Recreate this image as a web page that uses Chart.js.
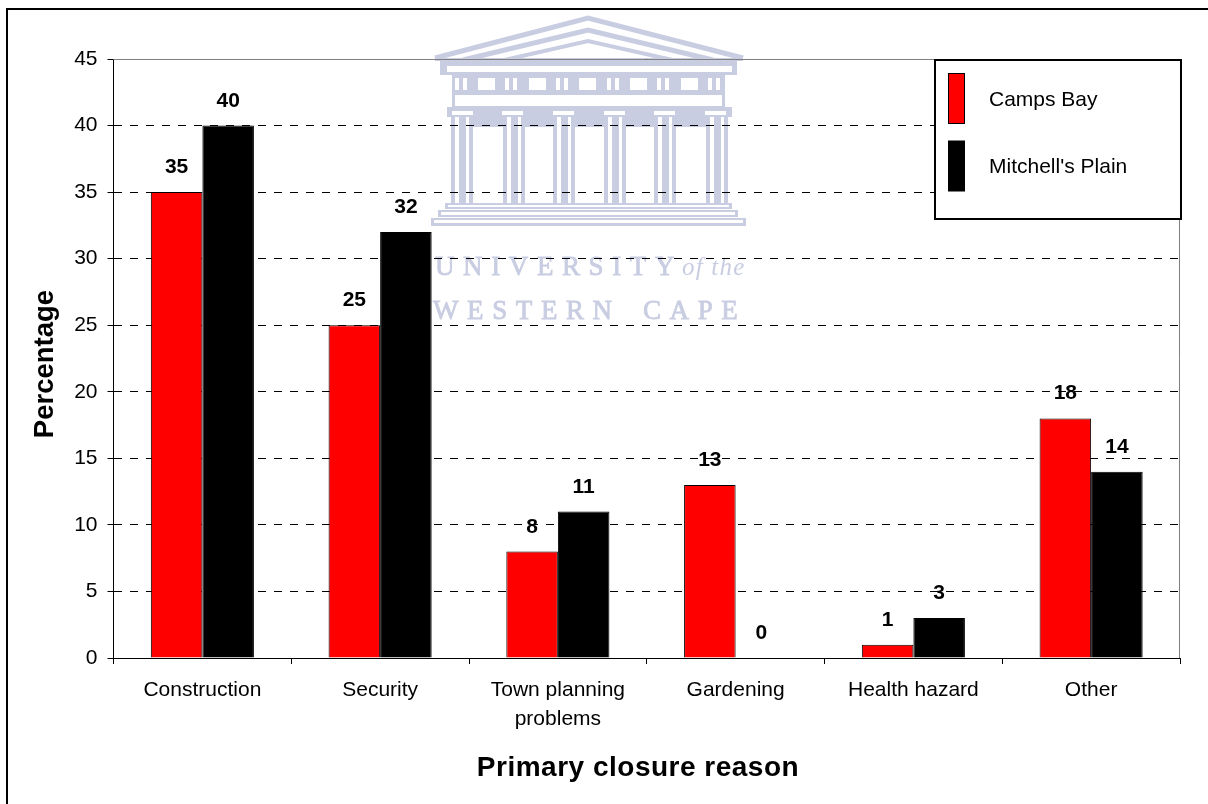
<!DOCTYPE html>
<html lang="en">
<head>
    <meta charset="UTF-8">
    <title>Primary closure reason</title>
    <script src="https://cdn.jsdelivr.net/npm/chart.js"></script>
    <style>
        body { margin: 0; background: #fff; }
        canvas { display: block; }
    </style>
</head>
<body>
    <canvas id="closureChart" width="1208" height="804"></canvas>

    <script>
        const categories = ['Construction', 'Security', ['Town planning', 'problems'], 'Gardening', 'Health hazard', 'Other'];
        const campsBay = [35, 25, 8, 13, 1, 18];
        const mitchellsPlain = [40, 32, 11, 0, 3, 14];
        const font = '"Liberation Sans", Arial, sans-serif';
        const serif = '"Liberation Serif", "Times New Roman", serif';
        const shade = '#c9cde2';

        // pale crest behind the plot
        const crest = {
            id: 'crest',
            beforeDraw(chart) {
                const c = chart.ctx;
                const box = (x, y, w, h, col) => { c.fillStyle = col || shade; c.fillRect(x, y, w, h); };
                c.save();
                c.fillStyle = '#fff';
                c.fillRect(0, 0, 1208, 804);

                // roof
                c.strokeStyle = shade;
                [[435, 58, 588, 18, 743, 58, 5], [463, 60, 588, 30, 713, 60, 5], [500, 61, 588, 41, 677, 61, 4]].forEach(r => {
                    c.lineWidth = r[6];
                    c.beginPath();
                    c.moveTo(r[0], r[1]); c.lineTo(r[2], r[3]); c.lineTo(r[4], r[5]);
                    c.stroke();
                });

                // cornice and frieze
                box(435, 58, 308, 3);
                box(440, 61, 297, 14);
                box(447, 66, 285, 6, '#fff');
                box(452, 75, 273, 32);
                box(455, 95, 267, 11, '#fff');
                [478, 529, 579, 630, 681].forEach(x => box(x, 78, 17, 12, '#fff'));
                [455, 505, 556, 607, 657, 708].forEach(x => {
                    box(x, 78, 4, 12, '#fff');
                    box(x + 8, 78, 4, 12, '#fff');
                });

                // entablature and capitals
                box(447, 107, 285, 10);
                box(452, 117, 273, 10);
                [452, 502, 553, 604, 654, 705].forEach(x => box(x, 111, 21, 4, '#fff'));

                // columns
                [451, 503, 553, 604, 654, 706].forEach(x => {
                    box(x, 117, 22, 87);
                    box(x + 4, 117, 4, 87, '#fff');
                    box(x + 15, 117, 3, 87, '#fff');
                });

                // steps
                box(445, 203, 287, 6);
                box(448, 205, 281, 2, '#fff');
                box(438, 210, 300, 7);
                box(441, 212, 294, 3, '#fff');
                box(431, 218, 315, 8);
                box(434, 220, 309, 3, '#fff');

                // name
                c.fillStyle = shade;
                c.strokeStyle = shade;
                c.lineWidth = 0.8;
                c.textAlign = 'left';
                c.textBaseline = 'alphabetic';
                c.font = '27px ' + serif;
                c.letterSpacing = '8.6px';
                [['UNIVERSITY', 435, 275], ['WESTERN', 433, 319], ['CAPE', 643, 319]].forEach(t => {
                    c.fillText(t[0], t[1], t[2]);
                    c.strokeText(t[0], t[1], t[2]);
                });
                c.font = 'italic 25px ' + serif;
                c.letterSpacing = '1.2px';
                c.fillText('of the', 682, 275);
                c.restore();
            }
        };

        // value labels, frame and legend
        const extras = {
            id: 'extras',
            afterDatasetsDraw(chart) {
                const c = chart.ctx;
                const area = chart.chartArea;
                c.save();

                // plot edge on top and right
                c.strokeStyle = '#808080';
                c.lineWidth = 1;
                c.beginPath();
                c.moveTo(area.left, area.top + 0.5);
                c.lineTo(area.right - 0.5, area.top + 0.5);
                c.lineTo(area.right - 0.5, area.bottom);
                c.stroke();

                c.fillStyle = '#000';
                c.font = 'bold 21px ' + font;
                c.textAlign = 'center';
                c.textBaseline = 'alphabetic';
                chart.data.datasets.forEach((set, i) => {
                    chart.getDatasetMeta(i).data.forEach((bar, j) => {
                        c.fillText(set.data[j], bar.x, bar.y - 19);
                    });
                });

                // legend
                c.fillStyle = '#fff';
                c.fillRect(934, 59, 247, 160);
                c.strokeStyle = '#000';
                c.lineWidth = 2;
                c.strokeRect(935, 60, 246, 159);
                c.font = '21px ' + font;
                c.textAlign = 'left';
                c.textBaseline = 'middle';
                chart.data.datasets.forEach((set, i) => {
                    const top = 73 + i * 67.5;
                    c.fillStyle = set.backgroundColor;
                    c.fillRect(948.5, top + 0.5, 16, 50);
                    c.strokeStyle = '#000';
                    c.lineWidth = 1;
                    c.strokeRect(948.5, top + 0.5, 16, 50);
                    c.fillStyle = '#000';
                    c.fillText(set.label, 989, 100 + i * 67.5);
                });

                // axis titles
                c.fillStyle = '#000';
                c.textAlign = 'center';
                c.textBaseline = 'alphabetic';
                c.font = 'bold 28px ' + font;
                c.letterSpacing = '0.5px';
                c.fillText(chart.options.scales.x.title.text, 638, 776);
                c.translate(53, 364);
                c.rotate(-Math.PI / 2);
                c.font = 'bold 27.5px ' + font;
                c.letterSpacing = '0px';
                c.fillText(chart.options.scales.y.title.text, 0, 0);
                c.restore();

                // outer frame, open to the right and bottom of the picture
                c.save();
                c.fillStyle = '#000';
                c.fillRect(6, 8, 1202, 2);
                c.fillRect(6, 8, 2, 796);
                c.restore();
            }
        };

        new Chart(document.getElementById('closureChart'), {
            type: 'bar',
            data: {
                labels: categories,
                datasets: [
                    { label: 'Camps Bay', data: campsBay, backgroundColor: '#ff0000', borderColor: '#000', borderWidth: 1, categoryPercentage: 0.58, barPercentage: 1 },
                    { label: "Mitchell's Plain", data: mitchellsPlain, backgroundColor: '#000000', borderColor: '#000', borderWidth: 1, categoryPercentage: 0.58, barPercentage: 1 }
                ]
            },
            options: {
                responsive: false,
                animation: false,
                layout: { padding: { left: 28, right: 28, top: 59, bottom: 20 } },
                plugins: {
                    legend: { display: false },
                    tooltip: { enabled: false }
                },
                scales: {
                    x: {
                        afterFit(scale) { scale.height = 126; },
                        grid: { offset: true, drawOnChartArea: false, color: '#000', tickLength: 6 },
                        border: { color: '#000' },
                        ticks: { color: '#000', font: { family: font, size: 21, lineHeight: 1.38 }, padding: 12, maxRotation: 0 },
                        title: { display: false, text: 'Primary closure reason' }
                    },
                    y: {
                        min: 0,
                        max: 45,
                        afterFit(scale) { scale.width = 85.5; },
                        grid: { color: '#000', tickLength: 6, drawTicks: true },
                        border: { color: '#000', dash: [8, 8] },
                        ticks: { stepSize: 5, color: '#000', font: { family: font, size: 21 }, padding: 10 },
                        title: { display: false, text: 'Percentage' }
                    }
                }
            },
            plugins: [crest, extras]
        });
    </script>
</body>
</html>
